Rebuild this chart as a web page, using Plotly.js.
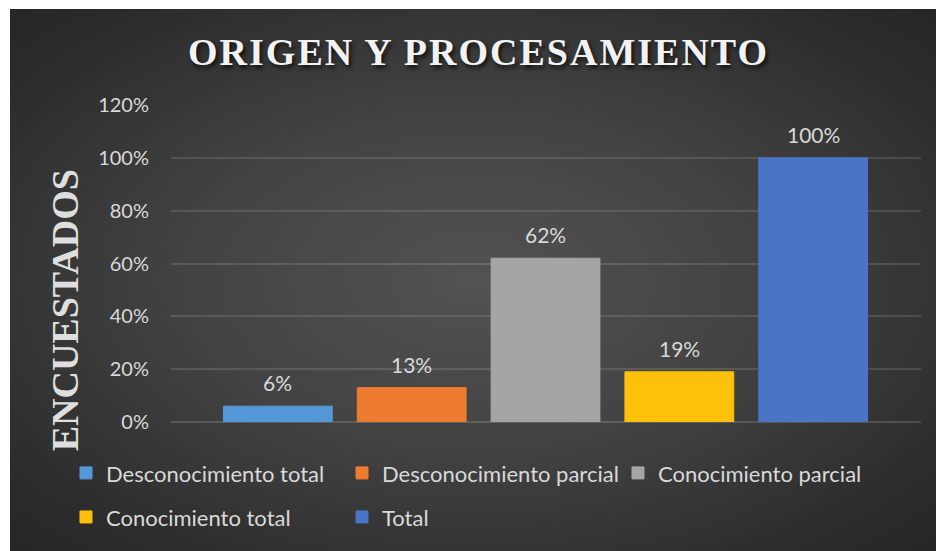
<!DOCTYPE html>
<html>
<head>
<meta charset="utf-8">
<script src="https://cdn.plot.ly/plotly-3.0.1.min.js"></script>
<style>
  html, body { margin: 0; padding: 0; background: #ffffff; width: 936px; height: 551px; overflow: hidden; }
  #chart {
    position: absolute; left: 10px; top: 9px; width: 926px; height: 542px;
    background: radial-gradient(ellipse at 50% 50%, #525252 0%, #424242 45%, #2c2c2c 85%, #262626 100%);
  }
</style>
</head>
<body>
<div id="chart"></div>
<script>
const categories = ["Desconocimiento total", "Desconocimiento parcial", "Conocimiento parcial", "Conocimiento total", "Total"];
const values = [0.06, 0.13, 0.62, 0.19, 1.00];
const colors = ["#5598d7", "#ee7c30", "#a5a5a5", "#fdc00b", "#4a74c6"];
const yTicks = [0, 0.2, 0.4, 0.6, 0.8, 1.0, 1.2];
const yTickLabels = ["0%", "20%", "40%", "60%", "80%", "100%", "120%"];
const valueLabels = values.map(v => Math.round(v * 100) + '%');

const traces = categories.map((name, i) => ({
  type: 'bar',
  name: name,
  x: [categories[i]],
  y: [values[i]],
  width: 0.813,
  marker: { color: colors[i], line: { width: 1, color: colors[i] } },
  legend: i < 3 ? 'legend' : 'legend2',
  hoverinfo: 'skip'
}));

const labelAnnotations = categories.map((c, i) => ({
  x: c, y: values[i], xref: 'x', yref: 'y',
  text: valueLabels[i], showarrow: false,
  xanchor: 'center', yanchor: 'bottom', yshift: 9,
  font: { family: 'Lato, sans-serif', size: 21, color: '#d9d9d9' }
}));

const legendFont = { family: 'Lato, sans-serif', size: 22, color: '#d9d9d9' };

const layout = {
  width: 926, height: 542,
  paper_bgcolor: 'rgba(0,0,0,0)',
  plot_bgcolor: 'rgba(0,0,0,0)',
  margin: { l: 161, r: 15, t: 96, b: 129 },
  barmode: 'overlay',
  title: {
    text: 'ORIGEN Y PROCESAMIENTO',
    font: { family: 'Liberation Serif, serif', size: 38, weight: 700, color: '#f2f2f2', shadow: '2px 3px 4px rgba(0,0,0,0.75)' },
    xref: 'container', x: 0.506, xanchor: 'center',
    yref: 'container', y: 0.921, yanchor: 'middle'
  },
  xaxis: {
    type: 'category', categoryorder: 'array', categoryarray: categories,
    range: [-0.7985, 4.806],
    showticklabels: false, showgrid: false, zeroline: false, showline: false, ticks: '', fixedrange: true
  },
  yaxis: {
    range: [0, 1.2],
    tickvals: yTicks, ticktext: yTickLabels,
    ticks: '', ticklabelstandoff: 21,
    tickfont: { family: 'Lato, sans-serif', size: 20, color: '#d9d9d9' },
    showgrid: true, gridcolor: 'rgba(255,255,255,0.12)', gridwidth: 2,
    zeroline: true, zerolinecolor: 'rgba(255,255,255,0.15)', zerolinewidth: 2,
    showline: false
  },
  annotations: [{
    text: 'ENCUESTADOS', textangle: -90,
    xref: 'paper', yref: 'paper', x: -0.141, y: 0.353,
    xanchor: 'center', yanchor: 'middle', showarrow: false,
    font: { family: 'Liberation Serif, serif', size: 38, weight: 700, color: '#dedede' }
  }].concat(labelAnnotations),
  showlegend: true,
  legend: {
    orientation: 'h',
    x: -0.14, xanchor: 'left',
    y: -0.095, yanchor: 'top',
    entrywidth: 231, entrywidthmode: 'pixels',
    font: legendFont,
    bgcolor: 'rgba(0,0,0,0)'
  },
  legend2: {
    orientation: 'h',
    x: -0.14, xanchor: 'left',
    y: -0.234, yanchor: 'top',
    entrywidth: 231, entrywidthmode: 'pixels',
    font: legendFont,
    bgcolor: 'rgba(0,0,0,0)'
  }
};

Plotly.newPlot('chart', traces, layout, { displayModeBar: false, staticPlot: true }).then(gd => {
  const t = gd.querySelector('.gtitle');
  if (t) t.style.letterSpacing = '2px';
});
</script>
</body>
</html>
